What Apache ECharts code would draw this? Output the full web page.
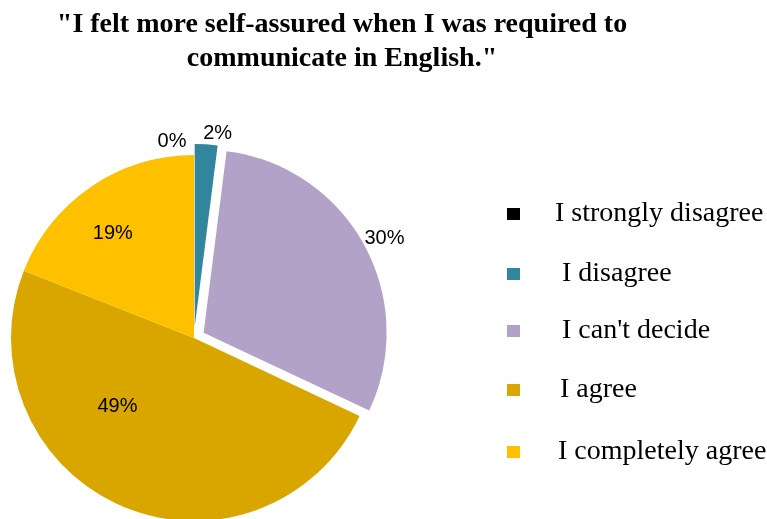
<!DOCTYPE html>
<html>
<head>
<meta charset="utf-8">
<script src="https://cdn.jsdelivr.net/npm/echarts@6/dist/echarts.min.js"></script>
<style>
  html, body { margin: 0; padding: 0; background: #fff; }
  #chart { width: 767px; height: 519px; }
</style>
</head>
<body>
<div id="chart"></div>
<script>
// Survey answers, in clockwise order from 12 o'clock
const categories = ['I strongly disagree', 'I disagree', "I can't decide", 'I agree', 'I completely agree'];
const percentages = [0, 2, 30, 49, 19];
const sliceColors = ['#000000', '#31859C', '#B3A2C7', '#D9A600', '#FFC000'];
const pulledOut = [false, true, true, false, false];

// Per-slice label nudges away from the default inside position
const labelOffsets = [[-22, -102], [17, -99], [98, -49], [-39, -18], [-28, -26]];

// Legend rows: row top and text indent for each entry
const legendTops = [200, 260, 317, 376, 438];
const legendIndent = [31, 38, 38, 36, 34];

const chart = echarts.init(document.getElementById('chart'), null, { renderer: 'canvas' });

const pieData = categories.map((name, i) => ({
  name: name,
  value: percentages[i],
  selected: pulledOut[i],
  itemStyle: { color: sliceColors[i] },
  label: { offset: labelOffsets[i] },
  select: { label: { offset: labelOffsets[i] } }
}));

const legends = categories.map((name, i) => ({
  data: [name],
  orient: 'vertical',
  left: 507,
  top: legendTops[i],
  padding: 0,
  itemWidth: 13,
  itemHeight: 12,
  icon: 'rect',
  selectedMode: false,
  textStyle: {
    fontFamily: 'Liberation Serif',
    fontSize: 28,
    lineHeight: 28,
    color: '#000',
    padding: [0, 0, 0, legendIndent[i] - 1]
  }
}));

chart.setOption({
  animation: false,
  title: {
    text: '"I felt more self-assured when I was required to\ncommunicate in English."',
    left: 342,
    top: 8,
    padding: 0,
    textAlign: 'center',
    textStyle: {
      fontFamily: 'Liberation Serif',
      fontWeight: 'bold',
      fontSize: 28,
      lineHeight: 34,
      color: '#000'
    }
  },
  legend: legends,
  series: [{
    type: 'pie',
    center: [194, 338],
    radius: 183,
    startAngle: 90,
    clockwise: true,
    selectedMode: 'multiple',
    selectedOffset: 11,
    minAngle: 0,
    avoidLabelOverlap: false,
    label: {
      show: true,
      position: 'inside',
      formatter: p => p.value + '%',
      fontFamily: 'Liberation Sans',
      fontSize: 20,
      color: '#000'
    },
    labelLine: { show: false },
    emphasis: { disabled: true },
    select: { itemStyle: { borderWidth: 0 } },
    itemStyle: { borderWidth: 0 },
    data: pieData
  }]
});
</script>
</body>
</html>
